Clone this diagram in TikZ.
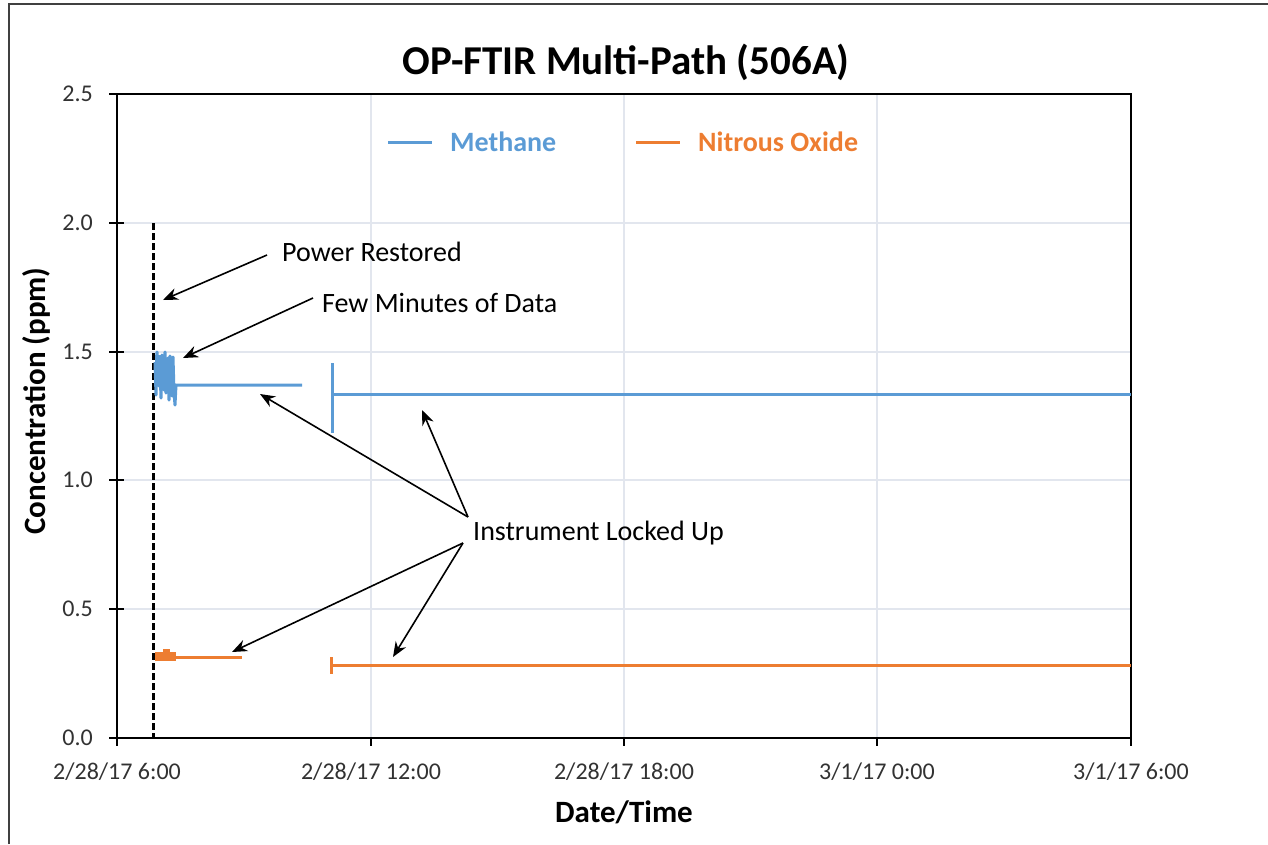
\documentclass[tikz,border=0pt]{standalone}
\usepackage{fontspec}
\setmainfont{Carlito}
\usetikzlibrary{arrows.meta}
\definecolor{methaneblue}{RGB}{91,155,213}
\definecolor{nitrousorange}{RGB}{237,125,49}
\definecolor{gridgray}{RGB}{226,230,238}
\definecolor{framegray}{RGB}{64,64,64}
\definecolor{labelgray}{RGB}{50,50,50}
\tikzstyle{gridline} = [gridgray, line width=1.3pt]
\tikzstyle{axisline} = [black, line width=1.6pt]
\tikzstyle{methane} = [methaneblue, line width=3pt]
\tikzstyle{nitrous} = [nitrousorange, line width=3pt]
\tikzstyle{ticklabel} = [labelgray, font=\fontsize{24}{26}\selectfont, inner sep=0pt]
\tikzstyle{note} = [black, font=\fontsize{28}{30}\selectfont, inner sep=0pt, anchor=west]
\tikzstyle{legendtext} = [font=\fontsize{28}{30}\selectfont\bfseries, anchor=west, inner sep=0pt]
\tikzstyle{axistitle} = [font=\fontsize{31}{34}\selectfont\bfseries]
\tikzstyle{arrow} = [line width=1.6pt, -{Stealth[length=15pt,width=12pt]}]

\begin{document}
\begin{tikzpicture}[x=1pt, y=-1pt]
\useasboundingbox (0,0) rectangle (1268,844);

% outer frame
\draw [framegray, line width=2.2pt] (9,844) -- (9,4) -- (1268,4);

% grid
\foreach \yv in {223,352,480,609}
    \draw [gridline] (117,\yv) -- (1131,\yv);
\foreach \xv in {371,624,877}
    \draw [gridline] (\xv,94) -- (\xv,738);

% plot box and ticks
\draw [axisline] (117,94) rectangle (1131,738);
\foreach \yv/\lab in {94/2.5,223/2.0,352/1.5,480/1.0,609/0.5,738/0.0} {
    \draw [axisline] (109,\yv) -- (124,\yv);
    \node [ticklabel, anchor=east] at (93,\yv) {\lab};
}
\foreach \xv/\lab in {117/{2/28/17 6:00},371/{2/28/17 12:00},624/{2/28/17 18:00},877/{3/1/17 0:00},1131/{3/1/17 6:00}} {
    \draw [axisline] (\xv,738) -- (\xv,746);
    \node [ticklabel] at (\xv,772) {\lab};
}

% titles
\node (title) [font=\fontsize{41}{44}\selectfont\bfseries] at (626,62) {OP-FTIR Multi-Path (506A)};
\node (xlabel) [axistitle] at (624,812) {Date/Time};
\node (ylabel) [axistitle, rotate=90] at (36,401) {Concentration (ppm)};

% legend
\draw [methane] (388,142) -- (432,142);
\node (legm) [legendtext, methaneblue] at (450,142) {Methane};
\draw [nitrous] (636,142) -- (680,142);
\node (legn) [legendtext, nitrousorange] at (698,142) {Nitrous Oxide};

% power restored marker
\draw [black, line width=3pt, dash pattern=on 7pt off 3pt] (153,223) -- (153,738);

% methane data
\fill [methaneblue] (155,355) rectangle (164,375);
\draw [methane, line join=round] (155,362) -- (156,395) -- (157,352) -- (159,386) -- (160,368)
    -- (161,398) -- (162,355) -- (164,390) -- (165,352) -- (166,393) -- (168,358)
    -- (169,400) -- (170,356) -- (171,386) -- (172,396) -- (173,357) -- (174,392)
    -- (175,405) -- (176,385) -- (302,385);
\draw [methane] (332,363) -- (332,433);
\draw [methane] (332,394) -- (1131,394);

% nitrous oxide data
\fill [nitrousorange] (155,652) rectangle (176,661);
\fill [nitrousorange] (163,649) rectangle (170,652);
\draw [nitrous] (155,657) -- (242,657);
\draw [nitrous] (331,657) -- (331,674);
\draw [nitrous] (331,665) -- (1131,665);

% annotations
\node (power) [note] at (282,252) {Power Restored};
\node (few) [note] at (322,303) {Few Minutes of Data};
\node (locked) [note] at (473,533) {Instrument Locked Up};

\coordinate (powerstart) at (267,255);
\coordinate (powertip) at (163,300);
\coordinate (fewstart) at (313,298);
\coordinate (fewtip) at (183,358);
\coordinate (lockup) at (468,517);
\coordinate (lockdown) at (463,543);
\coordinate (tipa) at (260,394);
\coordinate (tipb) at (422,410);
\coordinate (tipc) at (232,652);
\coordinate (tipd) at (393,657);

\draw [arrow] (powerstart) -- (powertip);
\draw [arrow] (fewstart) -- (fewtip);
\draw [arrow] (lockup) -- (tipa);
\draw [arrow] (lockup) -- (tipb);
\draw [arrow] (lockdown) -- (tipc);
\draw [arrow] (lockdown) -- (tipd);

\end{tikzpicture}
\end{document}
